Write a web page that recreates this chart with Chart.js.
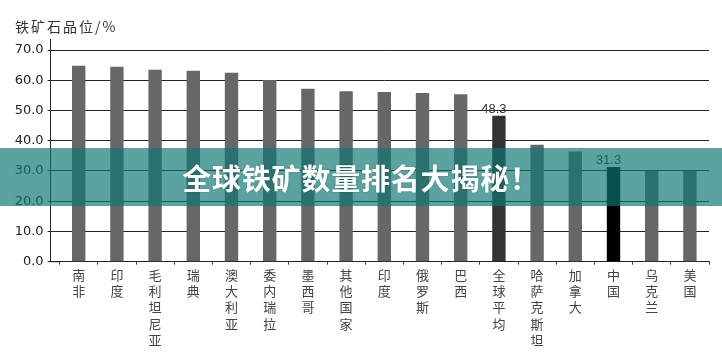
<!DOCTYPE html>
<html>
<head>
<meta charset="utf-8">
<script src="https://cdn.jsdelivr.net/npm/chart.js@4.4.1/dist/chart.umd.min.js"></script>
<style>
  html, body { margin: 0; padding: 0; background: #fff; }
  #wrap { position: relative; width: 722px; height: 356px; overflow: hidden; }
  #yTitle {
    position: absolute; left: 15px; top: 16px;
    font: 14px "Noto Sans CJK SC", sans-serif; letter-spacing: 2px; color: #333;
  }
  #banner {
    position: absolute; left: 0; top: 148px; width: 722px; height: 58px;
    background: rgba(14, 120, 115, 0.68);
    color: #fff; text-align: center;
    font: bold 29px "Noto Sans CJK SC", sans-serif; line-height: 58px;
    letter-spacing: 0.8px;
    text-shadow: 0 0 2px rgba(0,0,0,0.25);
  }
</style>
</head>
<body>
<div id="wrap">
  <canvas id="oreChart" width="722" height="356"></canvas>
  <div id="yTitle">铁矿石品位/%</div>
  <div id="banner">全球铁矿数量排名大揭秘！</div>
</div>
<script>
// categories and grade values
const countries = ['南非', '印度', '毛利坦尼亚', '瑞典', '澳大利亚', '委内瑞拉', '墨西哥', '其他国家',
  '印度', '俄罗斯', '巴西', '全球平均', '哈萨克斯坦', '加拿大', '中国', '乌克兰', '美国'];
const grades = [64.8, 64.5, 63.5, 63.1, 62.5, 60.1, 57.2, 56.4, 56.1, 55.8, 55.4, 48.3, 38.7, 36.4, 31.3, 30.0, 30.0];
// only these bars carry a value on top
const labelledBars = [11, 14];

const yTicks = { min: 0, max: 70, step: 10 };

// grey for every bar, darker for the world average, black for China
function barColors() {
  return countries.map(c => {
    if (c === '全球平均') return '#333333';
    if (c === '中国') return '#000000';
    return '#666867';
  });
}

// y axis line sits a little left of the first category, so draw it by hand
const axisLine = {
  id: 'axisLine',
  afterDraw(chart) {
    const ctx = chart.ctx;
    const a = chart.chartArea;
    ctx.save();
    ctx.strokeStyle = '#222';
    ctx.lineWidth = 1;
    ctx.beginPath();
    ctx.moveTo(50.5, 39);
    ctx.lineTo(50.5, a.bottom);
    ctx.moveTo(50, a.bottom);
    ctx.lineTo(a.left, a.bottom);
    ctx.stroke();
    ctx.restore();
  }
};

// values over the highlighted bars
const valueLabels = {
  id: 'valueLabels',
  afterDatasetsDraw(chart) {
    const ctx = chart.ctx;
    const bars = chart.getDatasetMeta(0).data;
    ctx.save();
    ctx.font = '13px "Liberation Sans", sans-serif';
    ctx.fillStyle = '#333';
    ctx.textAlign = 'center';
    ctx.textBaseline = 'alphabetic';
    labelledBars.forEach(i => {
      const b = bars[i];
      ctx.fillText(grades[i].toFixed(1), b.x - 5, b.y - 3);
    });
    ctx.restore();
  }
};

new Chart(document.getElementById('oreChart'), {
  type: 'bar',
  data: {
    labels: countries.map(c => c.split('')),
    datasets: [{
      data: grades,
      backgroundColor: barColors(),
      borderWidth: 0,
      barPercentage: 0.35,
      categoryPercentage: 1
    }]
  },
  options: {
    responsive: false,
    animation: false,
    layout: { padding: { top: 50, right: 13, left: 0, bottom: 0 } },
    plugins: { legend: { display: false }, tooltip: { enabled: false } },
    scales: {
      x: {
        offset: true,
        afterFit(scale) { scale.height = 94.3; },
        grid: { drawOnChartArea: false, tickLength: 3, color: '#444' },
        border: { color: '#222' },
        ticks: {
          autoSkip: false, maxRotation: 0, minRotation: 0, padding: 2,
          color: '#444',
          font: { family: '"Noto Sans CJK SC", sans-serif', size: 13, lineHeight: 1.25 }
        }
      },
      y: {
        min: yTicks.min,
        max: yTicks.max,
        afterFit(scale) { scale.width = 59.6; },
        grid: { color: '#222', tickLength: 12 },
        border: { display: false },
        ticks: {
          stepSize: yTicks.step,
          padding: 4,
          color: '#222',
          font: { family: '"DejaVu Sans", sans-serif', size: 13 },
          callback: v => v.toFixed(1)
        }
      }
    }
  },
  plugins: [axisLine, valueLabels]
});
</script>
</body>
</html>
